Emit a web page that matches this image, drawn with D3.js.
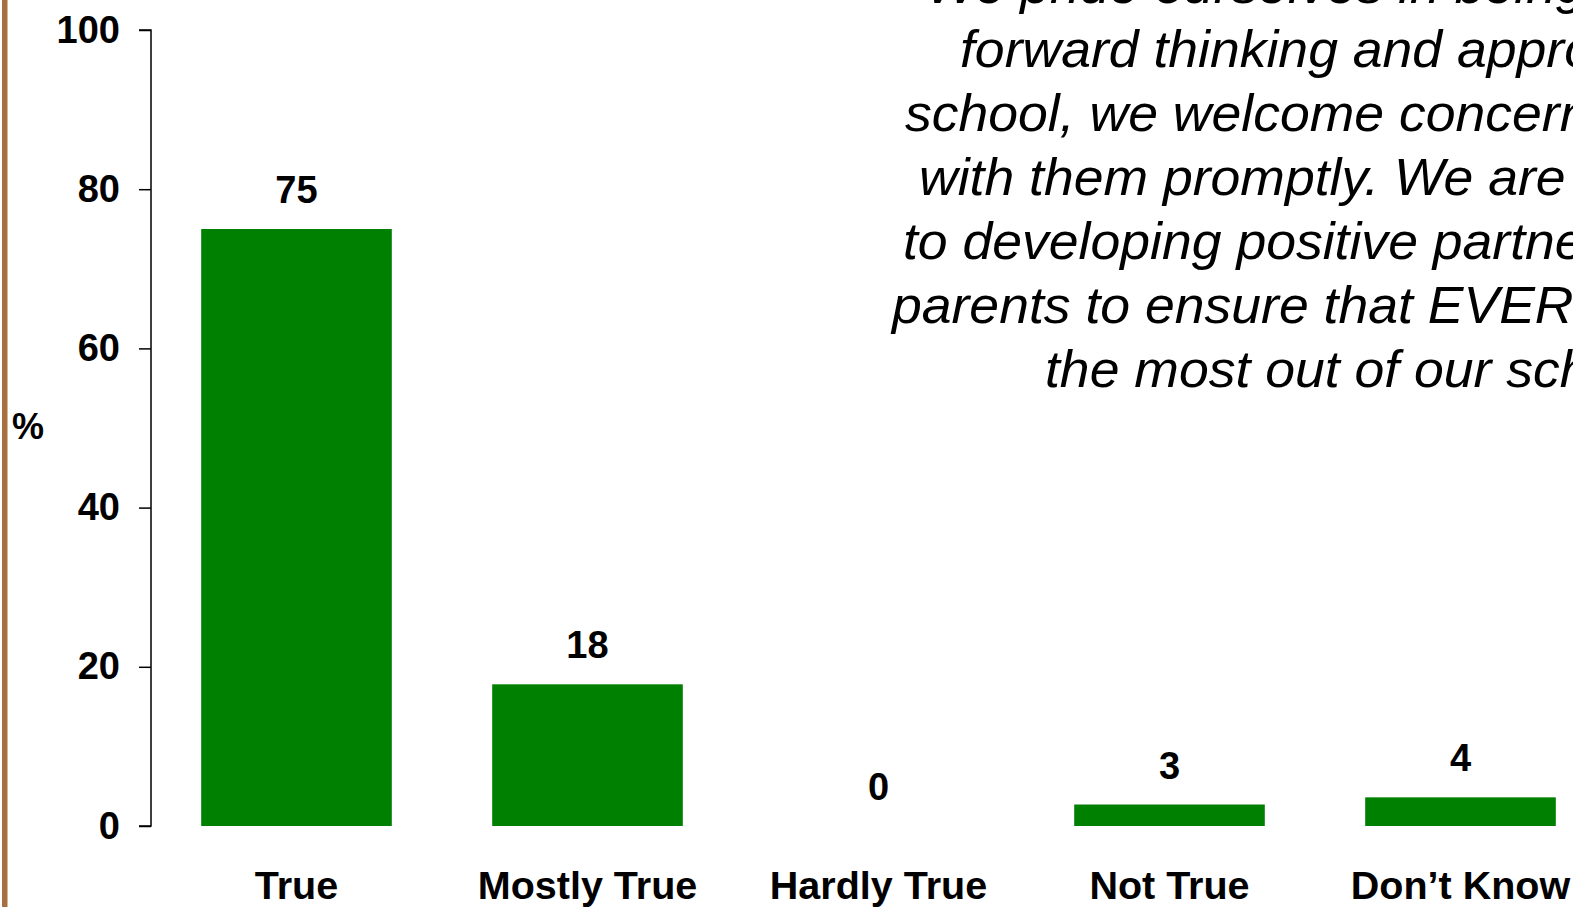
<!DOCTYPE html>
<html>
<head>
<meta charset="utf-8">
<script src="https://cdn.jsdelivr.net/npm/d3@7"></script>
<style>
  html, body { margin: 0; padding: 0; background: #fff; overflow: hidden; }
  svg { display: block; font-family: Arial, "Liberation Sans", sans-serif; }
</style>
</head>
<body>
<div id="chart"></div>
<script>
// Survey answers (percent of respondents)
const categories = ['True', 'Mostly True', 'Hardly True', 'Not True', 'Don\u2019t Know'];
const values = [75, 17.8, 0, 2.7, 3.6];
const yTicks = [0, 20, 40, 60, 80, 100];

// Quote text, one entry per line (cut off on the right in the original slide)
const quoteLines = [
  'We pride ourselves in being a forward',
  'forward thinking and approachable',
  'school, we welcome concerns and deal',
  'with them promptly. We are committed',
  'to developing positive partnerships with',
  'parents to ensure that EVERY child gets',
  'the most out of our school.'
];
const quoteStarts = [926, 960, 905, 919, 903, 892, 1045];

const width = 1573;
const height = 907;
const margin = { top: 30, left: 151, bottom: 81 };

const svg = d3.select('#chart')
  .append('svg')
  .attr('width', width)
  .attr('height', height);

// brown rule on the slide's left edge
svg.append('rect')
  .attr('x', 2).attr('y', 0)
  .attr('width', 5.5).attr('height', height)
  .attr('fill', '#a87040');

const x = d3.scaleBand()
  .domain(categories)
  .range([margin.left, margin.left + 5 * 291])
  .paddingInner(0.345)
  .paddingOuter(0.1725);

const y = d3.scaleLinear()
  .domain([0, 100])
  .range([height - margin.bottom, margin.top]);

// y axis
const yAxis = svg.append('g')
  .attr('transform', `translate(${margin.left},0)`)
  .call(d3.axisLeft(y).tickValues(yTicks).tickSize(12).tickPadding(19));

yAxis.select('.domain')
  .attr('d', `M-12,${y(100)}H0V${y(0)}H-12`)
  .attr('stroke', '#000')
  .attr('stroke-width', 1.5);
yAxis.selectAll('.tick line').attr('stroke', '#000').attr('stroke-width', 1.5);
yAxis.selectAll('.tick text')
  .attr('fill', '#000')
  .style('font-size', '38px')
  .style('font-weight', 'bold')
  .style('font-family', 'Arial, "Liberation Sans", sans-serif');

svg.append('text')
  .attr('x', 12)
  .attr('y', 439)
  .style('font-size', '36px')
  .style('font-weight', 'bold')
  .text('%');

// bars
svg.append('g')
  .selectAll('rect')
  .data(values)
  .join('rect')
  .attr('x', (d, i) => x(categories[i]))
  .attr('y', d => y(d))
  .attr('width', x.bandwidth())
  .attr('height', d => y(0) - y(d))
  .attr('fill', '#008000');

// value labels
const fmt = d3.format('.0f');
svg.append('g')
  .selectAll('text')
  .data(values)
  .join('text')
  .attr('x', (d, i) => x(categories[i]) + x.bandwidth() / 2)
  .attr('y', d => y(d) - 26)
  .attr('text-anchor', 'middle')
  .style('font-size', '38px')
  .style('font-weight', 'bold')
  .text(d => fmt(d));

// category labels
svg.append('g')
  .selectAll('text')
  .data(categories)
  .join('text')
  .attr('x', d => x(d) + x.bandwidth() / 2)
  .attr('y', 899)
  .attr('text-anchor', 'middle')
  .style('font-size', '39.5px')
  .style('font-weight', 'bold')
  .text(d => d);

// italic quote, top right (slightly widened like the slide text)
const stretch = 1.03;
svg.append('g')
  .attr('transform', `scale(${stretch},1)`)
  .selectAll('text')
  .data(quoteLines)
  .join('text')
  .attr('x', (d, i) => quoteStarts[i] / stretch)
  .attr('y', (d, i) => 3 + i * 64)
  .style('font-size', '52px')
  .style('font-style', 'italic')
  .text(d => d);
</script>
</body>
</html>
